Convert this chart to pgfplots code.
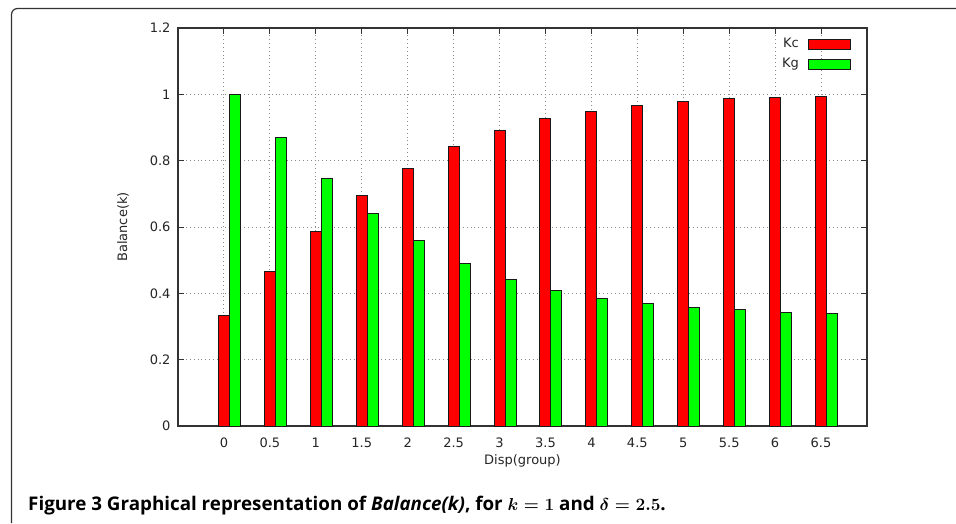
\documentclass[border=0pt]{standalone}
\usepackage[no-math]{fontspec}
\usepackage{pgfplots}
\pgfplotsset{compat=1.18}
\setmainfont{DejaVu Sans}
\newfontfamily\capfont{Open Sans}
\definecolor{kc}{HTML}{FF0000}
\definecolor{kg}{HTML}{00FF00}
\definecolor{frame}{HTML}{333333}
\begin{document}
\begin{tikzpicture}[x=1pt,y=1pt]
\useasboundingbox (0,0) rectangle (956,523);
\fill[white] (0,0) rectangle (956,523);
\draw[frame, line width=1.2pt, rounded corners=6pt] (11.5,0) -- (11.5,514.5) -- (956,514.5);
\begin{axis}[
  at={(178pt,97pt)}, anchor=south west,
  scale only axis, width=689pt, height=398pt,
  xmin=-0.5, xmax=7, ymin=0, ymax=1.2,
  xtick={0,0.5,1,1.5,2,2.5,3,3.5,4,4.5,5,5.5,6,6.5},
  xticklabels={0,0.5,1,1.5,2,2.5,3,3.5,4,4.5,5,5.5,6,6.5},
  ytick={0,0.2,0.4,0.6,0.8,1,1.2},
  yticklabels={0,0.2,0.4,0.6,0.8,1,1.2},
  /pgf/number format/assume math mode=true,
  tick align=inside, major tick length=6pt,
  tick style={draw=black!80, line width=1pt},
  axis line style={draw=black!80, line width=1.4pt},
  grid=major,
  grid style={draw=black!45, line width=0.9pt, dash pattern=on 0.9pt off 3pt},
  ticklabel style={font=\fontsize{13}{15}\selectfont, text=black!85},
  xticklabel style={anchor=center, yshift=-17pt},
  yticklabel style={anchor=east, xshift=-4pt},
  xlabel={Disp(group)}, ylabel={Balance(k)},
  label style={font=\fontsize{13}{15}\selectfont, text=black!85},
  xlabel style={at={(axis description cs:0.5,-0.0955)}, anchor=base},
  ylabel style={at={(axis description cs:-0.074,0.5)}, anchor=base},
  legend plot pos=right,
  legend cell align=right,
  legend style={at={(rel axis cs:1,1)}, anchor=north east, xshift=-16pt, yshift=-10pt,
    draw=none, fill=none, inner sep=0pt, row sep=8pt, column sep=9pt,
    font=\fontsize{13}{15}\selectfont, text=black!85,
    nodes={inner sep=0pt, text height=9.5pt, text depth=2.5pt}},
  every axis plot post/.append style={legend image code/.code={\draw[#1, line width=1pt] (0pt,-5pt) rectangle (42pt,5pt);}},
]
\addplot[ybar, bar width=11pt, bar shift=0pt, fill=kc, draw=black!90, line width=1pt] coordinates {
(0,0.332) (0.5,0.466) (1,0.586) (1.5,0.694) (2,0.776) (2.5,0.844) (3,0.892)
(3.5,0.927) (4,0.948) (4.5,0.967) (5,0.978) (5.5,0.986) (6,0.989) (6.5,0.993)};
\addplot[ybar, bar width=11pt, bar shift=11pt, fill=kg, draw=black!90, line width=1pt] coordinates {
(0,1.0) (0.5,0.871) (1,0.746) (1.5,0.641) (2,0.560) (2.5,0.491) (3,0.443)
(3.5,0.409) (4,0.383) (4.5,0.369) (5,0.357) (5.5,0.350) (6,0.342) (6.5,0.339)};
\legend{Kc,Kg}
\end{axis}
\node[anchor=base west, inner sep=0pt] at (28,12.5) {\capfont\bfseries\fontsize{18.8}{22}\selectfont Figure 3 Graphical representation of \textit{Balance(k)}, for {\boldmath$k=1$} and {\boldmath$\delta=2.5$}.};
\end{tikzpicture}
\end{document}
